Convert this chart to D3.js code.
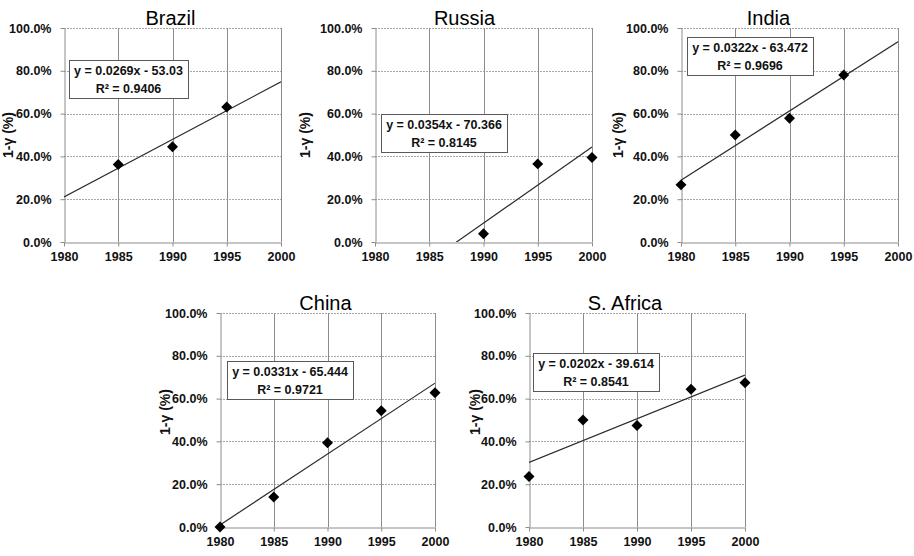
<!DOCTYPE html>
<html>
<head>
<meta charset="utf-8">
<script src="https://cdn.jsdelivr.net/npm/d3@7"></script>
<style>
  body { margin: 0; background: #fff; }
  svg { display: block; }
  text { font-family: Arial, 'Liberation Sans', sans-serif; }
</style>
</head>
<body>
<svg id="chart" width="914" height="556"></svg>
<script>
// Data (share of 1-γ, in %)
const years = [1980, 1985, 1990, 1995, 2000];
const countries = ['Brazil', 'Russia', 'India', 'China', 'S. Africa'];
const brazil = [null, 36.2, 44.5, 63.1, null];
const russia = [null, null, 3.9, 36.5, 39.5];
const india = [26.7, 50.0, 57.8, 78.0, null];
const china = [0.0, 14.0, 39.4, 54.3, 62.7];
const southAfrica = [23.6, 50.0, 47.4, 64.4, 67.4];
const equations = ['y = 0.0269x - 53.03', 'y = 0.0354x - 70.366', 'y = 0.0322x - 63.472',
  'y = 0.0331x - 65.444', 'y = 0.0202x - 39.614'];
const rSquared = ['R² = 0.9406', 'R² = 0.8145', 'R² = 0.9696', 'R² = 0.9721', 'R² = 0.8541'];
const yTicks = [0, 20, 40, 60, 80, 100];
const xTicks = years;
const yLabel = '1-γ (%)';

const series = [brazil, russia, india, china, southAfrica];

// Panel placement on the page
const panels = [
  { x: 64, y: 28, w: 217, h: 214, titleDx: -2, labelDx: 56, labelDy: 0, boxX: 5, boxY: 32 },
  { x: 375, y: 28, w: 217, h: 214, titleDx: -19, labelDx: 70, labelDy: 0, boxX: 6, boxY: 86 },
  { x: 681, y: 28, w: 217, h: 214, titleDx: -21, labelDx: 63, labelDy: 0, boxX: 6, boxY: 9 },
  { x: 220, y: 313, w: 215, h: 214, titleDx: -2, labelDx: 55, labelDy: -8, boxX: 7, boxY: 48 },
  { x: 529, y: 313, w: 216, h: 214, titleDx: -12, labelDx: 54, labelDy: -8, boxX: 4, boxY: 40 }
];

const svg = d3.select('#chart');
const crisp = v => Math.round(v) + 0.5;

countries.forEach((name, i) => {
  const L = panels[i];
  const g = svg.append('g').attr('transform', `translate(${L.x},${L.y})`);

  const x = d3.scaleLinear().domain([1980, 2000]).range([0, L.w]);
  const y = d3.scaleLinear().domain([0, 100]).range([L.h, 0]);

  // Horizontal grid (dotted)
  g.append('g').selectAll('line')
    .data(yTicks.slice(1))
    .join('line')
    .attr('x1', 0).attr('x2', L.w)
    .attr('y1', d => crisp(y(d))).attr('y2', d => crisp(y(d)))
    .attr('stroke', '#a6a6a6')
    .attr('stroke-dasharray', '2,1');

  // Vertical grid (solid)
  g.append('g').selectAll('line')
    .data(xTicks.slice(1))
    .join('line')
    .attr('x1', d => crisp(x(d))).attr('x2', d => crisp(x(d)))
    .attr('y1', 0).attr('y2', L.h)
    .attr('stroke', '#8c8c8c');

  // Axes
  const yAxis = d3.axisLeft(y)
    .tickValues(yTicks)
    .tickSize(4)
    .tickSizeOuter(0)
    .tickPadding(9)
    .tickFormat(d => d.toFixed(1) + '%');

  const xAxis = d3.axisBottom(x)
    .tickValues(xTicks)
    .tickSize(4)
    .tickSizeOuter(0)
    .tickPadding(6)
    .tickFormat(d3.format('d'));

  const yg = g.append('g').attr('transform', 'translate(0.5,0)').call(yAxis);
  const xg = g.append('g').attr('transform', `translate(0,${crisp(L.h)})`).call(xAxis);

  [yg, xg].forEach(ax => {
    ax.select('.domain').attr('stroke', '#8c8c8c');
    ax.selectAll('.tick line').attr('stroke', '#8c8c8c');
    ax.selectAll('.tick text')
      .attr('fill', '#111')
      .style('font-size', '12.5px')
      .style('font-weight', 'bold')
      .style('font-family', "Arial, 'Liberation Sans', sans-serif");
  });

  // Linear trend line fitted to the points
  const pts = years.map((yr, j) => ({ yr, v: series[i][j] })).filter(d => d.v != null);
  const mx = d3.mean(pts, d => d.yr);
  const my = d3.mean(pts, d => d.v);
  const slope = d3.sum(pts, d => (d.yr - mx) * (d.v - my)) / d3.sum(pts, d => (d.yr - mx) ** 2);
  const fit = yr => my + slope * (yr - mx);

  const clipId = 'clip' + i;
  g.append('clipPath').attr('id', clipId)
    .append('rect').attr('width', L.w).attr('height', L.h);

  g.append('line')
    .attr('clip-path', `url(#${clipId})`)
    .attr('x1', x(1980)).attr('y1', y(fit(1980)))
    .attr('x2', x(2000)).attr('y2', y(fit(2000)))
    .attr('stroke', '#2b2b2b')
    .attr('stroke-width', 1.2);

  // Diamond markers
  g.selectAll('path.pt')
    .data(pts)
    .join('path')
    .attr('class', 'pt')
    .attr('d', d3.symbol(d3.symbolSquare, 60))
    .attr('transform', d => `translate(${x(d.yr)},${y(d.v)}) rotate(45)`)
    .attr('fill', '#000');

  // Equation box
  const box = g.append('g').attr('transform', `translate(${L.boxX},${L.boxY})`);
  const rect = box.append('rect');
  const t1 = box.append('text').attr('y', 15.3).text(equations[i]);
  const t2 = box.append('text').attr('y', 33).text(rSquared[i]);
  box.selectAll('text')
    .attr('text-anchor', 'middle')
    .attr('fill', '#111')
    .style('font-size', '12.5px')
    .style('font-weight', 'bold');
  const bw = Math.round(t1.node().getComputedTextLength() + 10);
  t1.attr('x', bw / 2);
  t2.attr('x', bw / 2);
  rect.attr('x', 0.5).attr('y', 0.5)
    .attr('width', bw).attr('height', 38)
    .attr('fill', '#fff')
    .attr('stroke', '#595959');

  // Title
  svg.append('text')
    .attr('x', L.x + L.w / 2 + L.titleDx)
    .attr('y', L.y - 3)
    .attr('text-anchor', 'middle')
    .attr('fill', '#000')
    .style('font-size', '20px')
    .text(name);

  // Y axis label
  svg.append('text')
    .attr('transform', `translate(${L.x - L.labelDx},${L.y + L.h / 2 + L.labelDy}) rotate(-90)`)
    .attr('text-anchor', 'middle')
    .attr('dy', '0.35em')
    .attr('fill', '#111')
    .style('font-size', '14px')
    .style('font-weight', 'bold')
    .text(yLabel);
});
</script>
</body>
</html>
